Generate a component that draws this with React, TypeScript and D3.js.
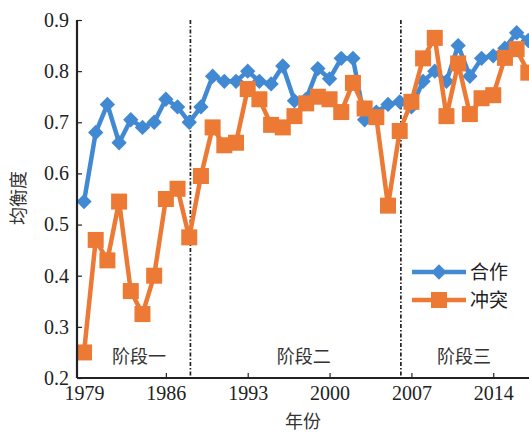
import React, { useEffect, useRef } from 'react'
import * as d3 from 'd3'

const years = d3.range(1979, 2018)
const cooperation = [
  0.545, 0.68, 0.735, 0.66, 0.705, 0.69, 0.7, 0.745, 0.73, 0.7,
  0.73, 0.79, 0.78, 0.78, 0.8, 0.78, 0.775, 0.81, 0.742, 0.745,
  0.805, 0.785, 0.825, 0.825, 0.705, 0.72, 0.735, 0.74, 0.73, 0.78,
  0.8, 0.78, 0.85, 0.79, 0.825, 0.83, 0.845, 0.875, 0.86,
]
const conflict = [
  0.25, 0.47, 0.43, 0.545, 0.37, 0.325, 0.4, 0.55, 0.57, 0.475,
  0.595, 0.69, 0.655, 0.66, 0.765, 0.745, 0.695, 0.69, 0.712, 0.737,
  0.75, 0.745, 0.72, 0.777, 0.727, 0.71, 0.537, 0.683, 0.74, 0.825,
  0.865, 0.712, 0.815, 0.716, 0.747, 0.753, 0.826, 0.843, 0.797,
]
const xTicks = [1979, 1986, 1993, 2000, 2007, 2014]
const yTicks = [0.2, 0.3, 0.4, 0.5, 0.6, 0.7, 0.8, 0.9]
const stageBreaks = [1988.1, 2006.1]
const stages = [
  { name: '阶段一', at: 1983.7 },
  { name: '阶段二', at: 1997.8 },
  { name: '阶段三', at: 2011.5 },
]

const BLUE = '#4189d3'
const ORANGE = '#ec7a35'
const serif = '"Liberation Serif", "DejaVu Serif", serif'
const cjk = '"Noto Sans CJK SC", sans-serif'

const App = () => {
  const svgRef = useRef<SVGSVGElement>(null)

  useEffect(() => {
    const width = 529
    const height = 432
    const svg = d3.select(svgRef.current).attr('width', width).attr('height', height)
    svg.selectAll('*').remove()

    const x = d3.scaleLinear().domain([1978.4, 2017.4]).range([77, 533])
    const y = d3.scaleLinear().domain([0.2, 0.9]).range([378, 20])

    // dividers between stages
    stageBreaks.forEach((b) => {
      svg
        .append('line')
        .attr('x1', x(b))
        .attr('x2', x(b))
        .attr('y1', y(0.9))
        .attr('y2', y(0.2))
        .attr('stroke', '#222')
        .attr('stroke-width', 1.7)
        .attr('stroke-dasharray', '4,2,1.5,2')
    })

    const line = d3
      .line<number>()
      .x((_, i) => x(years[i]))
      .y((d) => y(d))

    // 合作
    svg
      .append('path')
      .datum(cooperation)
      .attr('d', line)
      .attr('fill', 'none')
      .attr('stroke', BLUE)
      .attr('stroke-width', 4.5)
      .attr('stroke-linejoin', 'round')
    const diamond = d3.symbol().type(d3.symbolDiamond2).size(150)
    svg
      .selectAll('.coop')
      .data(cooperation)
      .enter()
      .append('path')
      .attr('d', diamond)
      .attr('transform', (d, i) => `translate(${x(years[i])},${y(d)})`)
      .attr('fill', BLUE)

    // 冲突
    svg
      .append('path')
      .datum(conflict)
      .attr('d', line)
      .attr('fill', 'none')
      .attr('stroke', ORANGE)
      .attr('stroke-width', 4.5)
      .attr('stroke-linejoin', 'round')
    const sq = 16
    svg
      .selectAll('.conf')
      .data(conflict)
      .enter()
      .append('rect')
      .attr('x', (d, i) => x(years[i]) - sq / 2)
      .attr('y', (d) => y(d) - sq / 2)
      .attr('width', sq)
      .attr('height', sq)
      .attr('fill', ORANGE)

    // axes
    const yAxis = svg.append('g').attr('transform', `translate(${x(1978.4)},0)`)
    yAxis
      .call(d3.axisLeft(y).tickValues(yTicks).tickSize(-5).tickPadding(8).tickFormat(d3.format('.1f')))
    const xAxis = svg.append('g').attr('transform', `translate(0,${y(0.2)})`)
    xAxis.call(d3.axisBottom(x).tickValues(xTicks).tickSize(-5).tickPadding(8).tickFormat(d3.format('d')))
    ;[yAxis, xAxis].forEach((g) => {
      g.select('.domain').attr('stroke', '#222').attr('stroke-width', 2.2)
      g.selectAll('.tick line').attr('stroke', '#222').attr('stroke-width', 1.2)
      g.selectAll('.tick text').attr('fill', '#222').style('font-family', serif).style('font-size', '20px')
    })
    yAxis.select('.domain').attr('d', `M0,${y(0.9)}V${y(0.2)}`)
    xAxis.select('.domain').attr('d', `M${x(1978.4)},0H${width}`)
    // 1979 tick sits on the y axis; hide its mark
    xAxis.selectAll('.tick line').filter((d) => d === 1979).remove()

    // stage labels
    stages.forEach((s) => {
      svg
        .append('text')
        .attr('x', x(s.at))
        .attr('y', 363)
        .attr('text-anchor', 'middle')
        .style('font-family', cjk)
        .style('font-size', '18px')
        .attr('fill', '#333')
        .text(s.name)
    })

    // axis titles
    svg
      .append('text')
      .attr('x', 303)
      .attr('y', 428)
      .attr('text-anchor', 'middle')
      .style('font-family', cjk)
      .style('font-size', '18px')
      .attr('fill', '#333')
      .text('年份')
    svg
      .append('text')
      .attr('transform', 'translate(25,198) rotate(-90)')
      .attr('text-anchor', 'middle')
      .style('font-family', cjk)
      .style('font-size', '18px')
      .attr('fill', '#333')
      .text('均衡度')

    // legend
    const legend = [
      { label: '合作', color: BLUE, shape: 'diamond' },
      { label: '冲突', color: ORANGE, shape: 'square' },
    ]
    legend.forEach((l, i) => {
      const g = svg.append('g').attr('transform', `translate(412,${272 + i * 28})`)
      g.append('line').attr('x1', 0).attr('x2', 54).attr('stroke', l.color).attr('stroke-width', 4.5)
      if (l.shape === 'diamond') {
        g.append('path').attr('d', diamond).attr('transform', 'translate(27,0)').attr('fill', l.color)
      } else {
        g.append('rect').attr('x', 27 - sq / 2).attr('y', -sq / 2).attr('width', sq).attr('height', sq).attr('fill', l.color)
      }
      g.append('text')
        .attr('x', 58)
        .attr('y', 7)
        .style('font-family', cjk)
        .style('font-size', '19px')
        .attr('fill', '#222')
        .text(l.label)
    })
  }, [])

  return (
    <div style={{ position: 'absolute', left: 0, top: 0, width: 529, height: 432, overflow: 'hidden', background: '#fff' }}>
      <svg ref={svgRef} style={{ display: 'block' }}></svg>
    </div>
  )
}

export default App
